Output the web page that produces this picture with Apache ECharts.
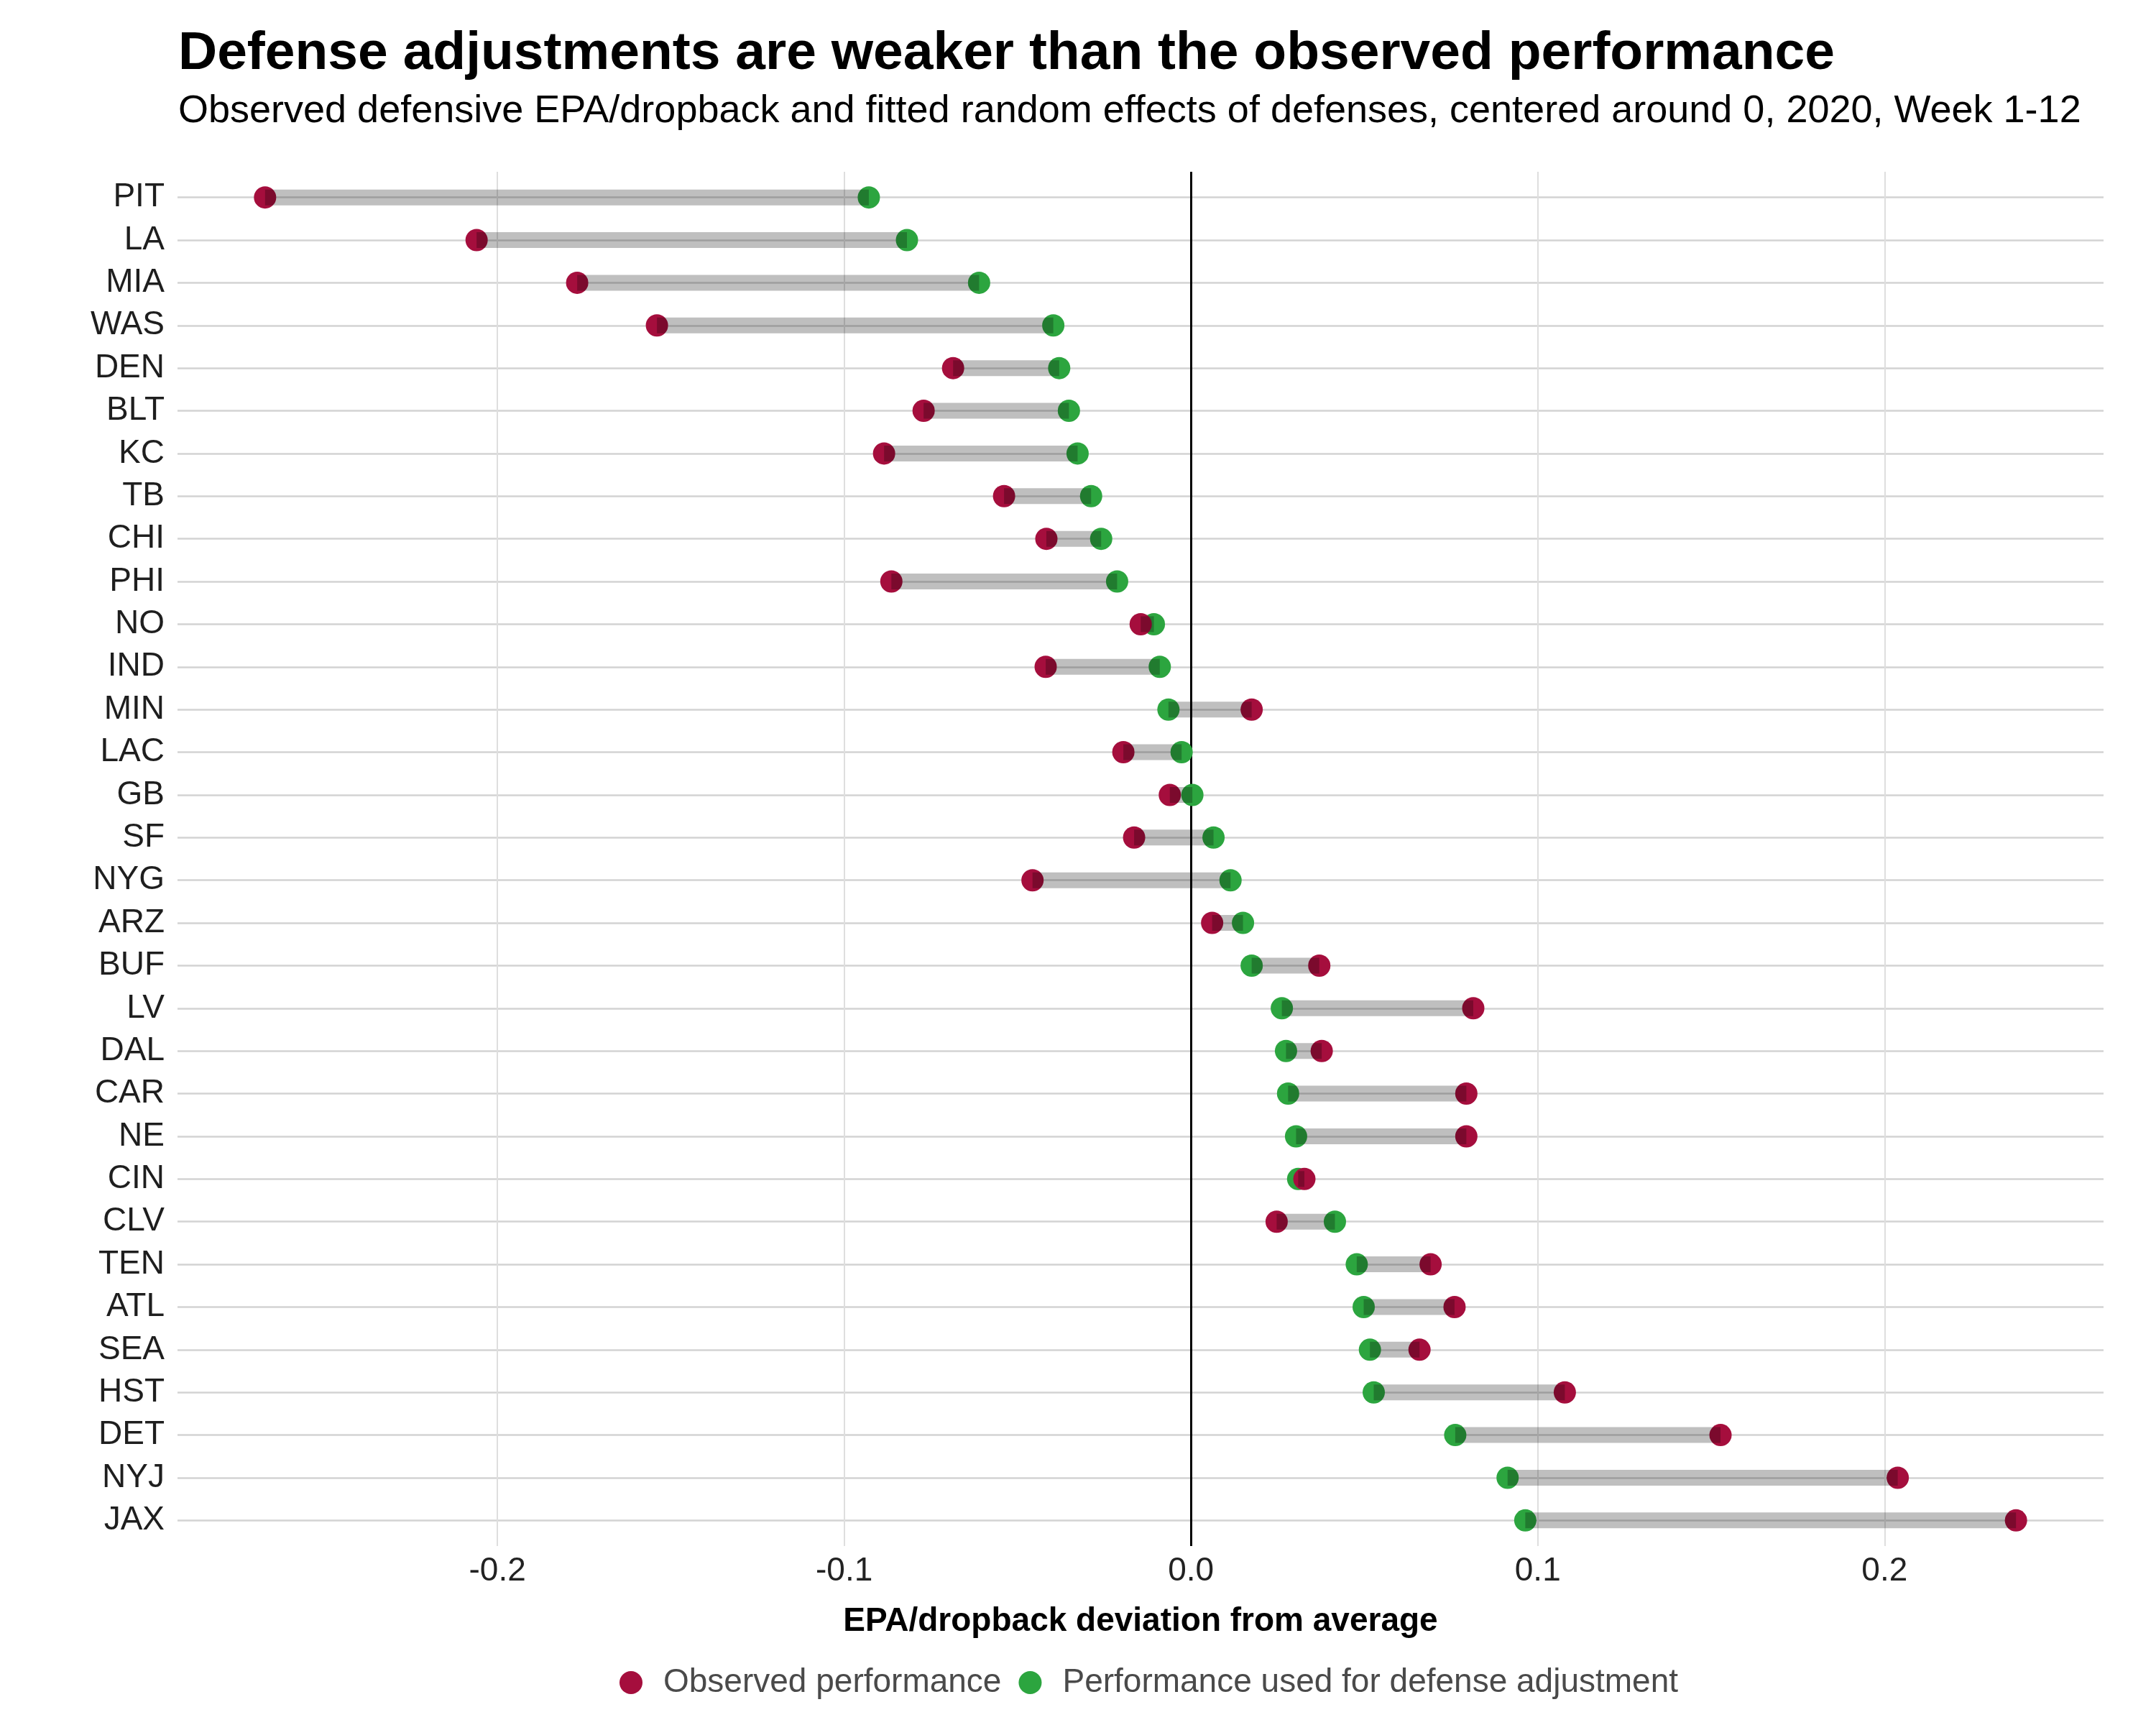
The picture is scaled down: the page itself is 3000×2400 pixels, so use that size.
<!DOCTYPE html>
<html>
<head>
<meta charset="utf-8">
<script src="https://cdn.jsdelivr.net/npm/echarts@6/dist/echarts.min.js"></script>
<style>html,body{margin:0;padding:0;background:#fff}#chart{width:3000px;height:2400px}</style>
</head>
<body>
<div id="chart"></div>
<script>
// Teams, top to bottom
const teams = ['PIT','LA','MIA','WAS','DEN','BLT','KC','TB','CHI','PHI','NO','IND','MIN','LAC','GB','SF','NYG','ARZ','BUF','LV','DAL','CAR','NE','CIN','CLV','TEN','ATL','SEA','HST','DET','NYJ','JAX'];
// Observed defensive EPA/dropback (centered)
const observed = [-0.267,-0.206,-0.177,-0.154,-0.0686,-0.0771,-0.0885,-0.0539,-0.0417,-0.0864,-0.0145,-0.0419,0.0175,-0.0195,-0.0061,-0.0164,-0.0457,0.0061,0.0370,0.0814,0.0377,0.0794,0.0794,0.0327,0.0247,0.0691,0.0760,0.0659,0.1078,0.1527,0.2038,0.2379];
// Fitted random effects used for defense adjustment
const adjusted = [-0.0929,-0.0819,-0.0611,-0.0397,-0.0380,-0.0352,-0.0327,-0.0288,-0.0259,-0.0213,-0.0107,-0.0090,-0.0065,-0.0027,0.0004,0.0065,0.0114,0.0150,0.0175,0.0262,0.0274,0.0280,0.0303,0.0309,0.0415,0.0478,0.0498,0.0516,0.0527,0.0762,0.0913,0.0964];
const xTicks = [-0.2,-0.1,0,0.1,0.2];

const allVals = observed.concat(adjusted);
const dMin = Math.min(...allVals), dMax = Math.max(...allVals);
const pad = 0.05 * (dMax - dMin);
const yIdx = teams.map((t,i)=>i+1);

const RED = '#a50e3d', GREEN = '#2ca53f';
const FONT = 'Liberation Sans';

const chart = echarts.init(document.getElementById('chart'));
chart.setOption({
  backgroundColor: '#fff',
  animation: false,
  title: [
    {text: 'Defense adjustments are weaker than the observed performance', left: 243, top: 33,
     textStyle: {fontFamily: FONT, fontSize: 75, fontWeight: 'bold', color: '#000', lineHeight: 75}},
    {text: 'Observed defensive EPA/dropback and fitted random effects of defenses, centered around 0, 2020, Week 1-12', left: 243, top: 123,
     textStyle: {fontFamily: FONT, fontSize: 54, fontWeight: 'normal', color: '#000', lineHeight: 54}}
  ],
  legend: {
    data: ['Observed performance', 'Performance used for defense adjustment'],
    left: 857, top: 2313, icon: 'circle', itemWidth: 32, itemHeight: 32, itemGap: 24,
    textStyle: {fontFamily: FONT, fontSize: 46, color: '#4a4a4a', padding: [0,0,0,24]}
  },
  grid: {left: 247, right: 73, top: 239, bottom: 249, containLabel: false},
  xAxis: {
    type: 'value', min: dMin - pad, max: dMax + pad,
    name: 'EPA/dropback deviation from average', nameLocation: 'middle', nameGap: 82,
    nameTextStyle: {fontFamily: FONT, fontSize: 46, fontWeight: 'bold', color: '#000'},
    axisLine: {show: false}, axisTick: {show: false, customValues: xTicks},
    axisLabel: {customValues: xTicks, fontFamily: FONT, fontSize: 46, color: '#222', margin: 12,
      formatter: v => v.toFixed(1)},
    splitLine: {show: true, lineStyle: {color: '#dedede', width: 2}}
  },
  yAxis: {
    type: 'value', inverse: true, min: 0.4, max: teams.length + 0.6,
    axisLine: {show: false}, axisTick: {show: false, customValues: yIdx},
    axisLabel: {customValues: yIdx, fontFamily: FONT, fontSize: 46, color: '#1e1e1e', margin: 18,
      padding: [6,0,0,0],
      formatter: v => teams[Math.round(v)-1] || ''},
    splitLine: {show: true, lineStyle: {color: '#d3d3d3', width: 2.5}}
  },
  series: [
    {
      name: 'Performance used for defense adjustment', type: 'scatter', symbol: 'circle', symbolSize: 31,
      itemStyle: {color: GREEN, opacity: 1},
      data: adjusted.map((v,i)=>[v, i+1]),
      markLine: {silent: true, symbol: 'none', label: {show: false},
        lineStyle: {color: '#000', width: 3, type: 'solid'}, data: [{xAxis: 0}], z: 1},
      z: 3
    },
    {
      name: 'Observed performance', type: 'scatter', symbol: 'circle', symbolSize: 31,
      itemStyle: {color: RED, opacity: 1},
      data: observed.map((v,i)=>[v, i+1]),
      z: 4
    },
    {
      name: 'segments', type: 'custom', z: 5, silent: true,
      data: observed.map((v,i)=>[v, adjusted[i], i+1]),
      encode: {x: [0,1], y: 2},
      renderItem: function(params, api) {
        const y = api.value(2);
        const p1 = api.coord([api.value(0), y]);
        const p2 = api.coord([api.value(1), y]);
        const h = 22;
        return {type: 'rect',
          shape: {x: Math.min(p1[0],p2[0]), y: p1[1]-h/2, width: Math.abs(p2[0]-p1[0]), height: h},
          style: {fill: 'rgba(0,0,0,0.25)'}};
      }
    }
  ]
});
</script>
</body>
</html>
